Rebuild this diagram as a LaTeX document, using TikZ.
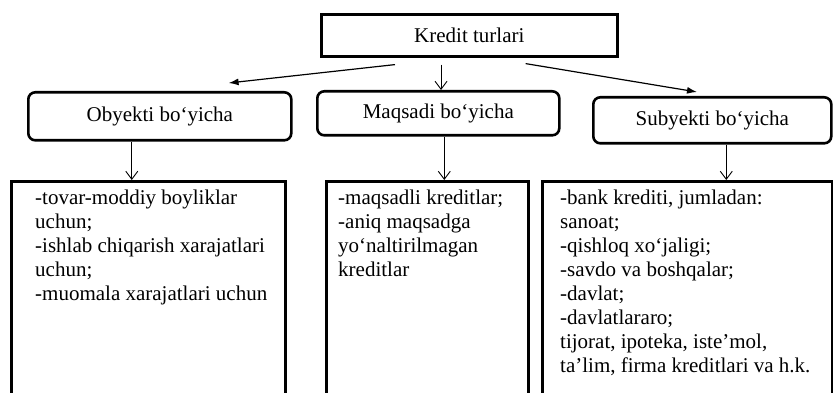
\documentclass[tikz,border=0pt]{standalone}
\usepackage{fontspec}
\setmainfont{Liberation Serif}
\usetikzlibrary{arrows.meta}
\begin{document}
\begin{tikzpicture}[x=1pt,y=-1pt,
  box/.style={draw, line width=2.6pt, inner sep=0pt, anchor=north west},
  rbox/.style={box, rounded corners=7pt},
  lbl/.style={font=\fontsize{21}{24}\selectfont},
  body/.style={font=\fontsize{21}{24}\selectfont, align=left, anchor=north west, inner sep=0pt},
  fa/.style={line width=1.2pt, -{Latex[length=10pt,width=7pt]}},
  oa/.style={line width=0.9pt, -{Straight Barb[length=8pt,width=12pt]}}]
\useasboundingbox (0,0) rectangle (833,393);
\fill[white] (0,0) rectangle (833,393);
\clip (0,0) rectangle (833,393);

% top box
\node[box, minimum width=296pt, minimum height=42pt, lbl] (top) at (320,13) {Kredit turlari};

% second row
\node[rbox, minimum width=263pt, minimum height=48pt, lbl] (ob) at (27,91) {Obyekti bo‘yicha};
\node[rbox, minimum width=242pt, minimum height=44pt, lbl] (mq) at (316,90) {Maqsadi bo‘yicha};
\node[rbox, minimum width=238pt, minimum height=46pt, lbl] (sb) at (592,96) {Subyekti bo‘yicha};

% bottom boxes (open at the bottom, cut by the page)
\node[box, minimum width=274pt, minimum height=240pt] (b1) at (10,180) {};
\node[box, minimum width=202pt, minimum height=240pt] (b2) at (325,180) {};
\node[box, minimum width=290pt, minimum height=240pt] (b3) at (541,180) {};

\node[body] (t1) at (35,190) {-tovar-moddiy boyliklar\\uchun;\\-ishlab chiqarish xarajatlari\\uchun;\\-muomala xarajatlari uchun};
\node[body] (t2) at (338,190) {-maqsadli kreditlar;\\-aniq maqsadga\\yo‘naltirilmagan\\kreditlar};
\node[body] (t3) at (560,190) {-bank krediti, jumladan:\\sanoat;\\-qishloq xo‘jaligi;\\-savdo va boshqalar;\\-davlat;\\-davlatlararo;\\tijorat, ipoteka, iste’mol,\\ta’lim, firma kreditlari va h.k.};

% connectors
\coordinate (tl) at ([xshift=75pt,yshift=-7pt]top.south west);
\coordinate (tr) at ([xshift=-93pt,yshift=-6pt]top.south east);
\coordinate (tm) at ([xshift=121pt,yshift=-7pt]top.south west);
\coordinate (obin) at ([xshift=-64pt,yshift=8pt]ob.north east);
\coordinate (sbin) at ([xshift=105pt,yshift=4pt]sb.north west);
\draw[fa] (tl) -- (obin);
\draw[fa] (tr) -- (sbin);
\draw[oa] (tm) -- (tm |- mq.north);
\coordinate (obd) at ([xshift=-28pt]ob.south);
\coordinate (mqd) at ([xshift=6pt]mq.south);
\coordinate (sbd) at ([xshift=14pt]sb.south);
\draw[oa] (obd) -- (obd |- b1.north);
\draw[oa] (mqd) -- (mqd |- b2.north);
\draw[oa] (sbd) -- (sbd |- b3.north);
\end{tikzpicture}
\end{document}
